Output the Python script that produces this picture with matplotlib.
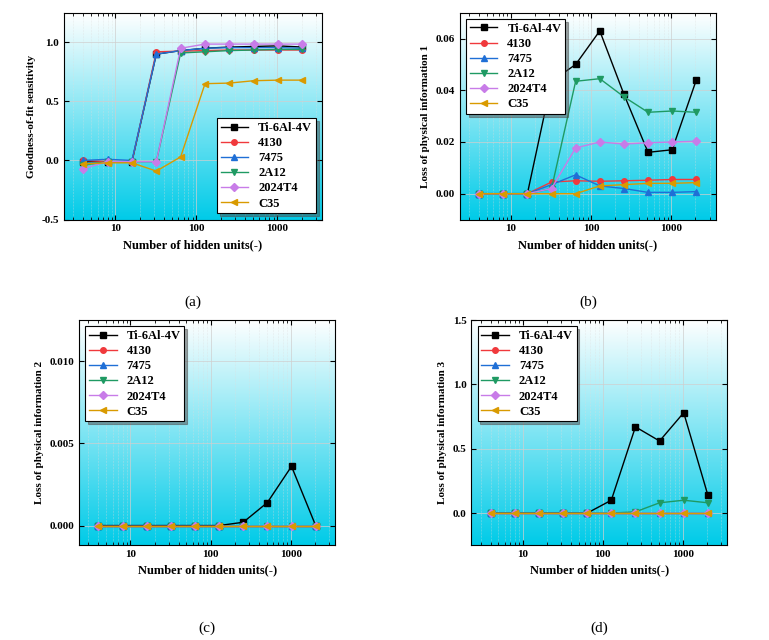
import numpy as np
import matplotlib.pyplot as plt
from matplotlib.colors import LinearSegmentedColormap
from matplotlib.ticker import FixedLocator, FixedFormatter

plt.rcParams['font.family'] = ['Liberation Serif', 'Noto Sans CJK SC', 'DejaVu Sans']
plt.rcParams['font.weight'] = 'bold'

units = [4, 8, 16, 32, 64, 128, 256, 512, 1024, 2048]
names = ["Ti-6Al-4V", "4130", "7475", "2A12", "2024T4", "C35"]
colors = ['black', '#f0393c', '#1f6fd6', '#1f9a63', '#c87ce8', '#d99a00']
markers = ['s', 'o', '^', 'v', 'D', '<']

fit = [
    [-0.01, -0.01, -0.01, 0.90, 0.93, 0.95, 0.96, 0.965, 0.97, 0.96],
    [0.0, -0.01, -0.01, 0.92, 0.925, 0.93, 0.935, 0.935, 0.935, 0.935],
    [0.0, 0.01, 0.0, 0.90, 0.93, 0.95, 0.955, 0.955, 0.955, 0.95],
    [-0.04, -0.01, -0.01, -0.01, 0.91, 0.92, 0.93, 0.935, 0.94, 0.94],
    [-0.07, -0.01, -0.01, -0.01, 0.95, 0.985, 0.985, 0.985, 0.985, 0.985],
    [-0.03, -0.02, -0.02, -0.09, 0.03, 0.65, 0.655, 0.675, 0.68, 0.68],
]
loss1 = [
    [0, 0, 0, 0.0435, 0.05, 0.063, 0.0385, 0.016, 0.017, 0.044],
    [0, 0, 0, 0.0045, 0.005, 0.0048, 0.005, 0.0052, 0.0055, 0.0055],
    [0, 0, 0, 0.0035, 0.0073, 0.003, 0.002, 0.0005, 0.0005, 0.0008],
    [0, 0, 0, 0.002, 0.0435, 0.0445, 0.0375, 0.0315, 0.032, 0.0315],
    [0, 0, 0, 0.002, 0.0177, 0.02, 0.0192, 0.0197, 0.02, 0.0203],
    [0, 0, 0, 0, 0, 0.003, 0.0035, 0.004, 0.004, 0.0043],
]
loss2 = [
    [0, 0, 0, 0, 0, 0, 0.0002, 0.0014, 0.0036, 0],
    [0] * 10, [0] * 10, [0] * 10, [0] * 10, [0] * 10,
]
loss3 = [
    [0, 0, 0, 0, 0, 0.1, 0.67, 0.56, 0.78, 0.14],
    [0] * 10, [0] * 10,
    [0, 0, 0, 0, 0, 0, 0.01, 0.08, 0.1, 0.08],
    [0] * 10, [0] * 10,
]

panels = [
    (fit, "Goodness-of-fit sensitivity", (-0.5, 1.25), [-0.5, 0, 0.5, 1.0], '{:.1f}', "(a)", 'lower right'),
    (loss1, "Loss of physical information 1", (-0.01, 0.07), [0, 0.02, 0.04, 0.06], '{:.2f}', "(b)", 'upper left'),
    (loss2, "Loss of physical information 2", (-0.0012, 0.0125), [0, 0.005, 0.010], '{:.3f}', "(c)", 'upper left'),
    (loss3, "Loss of physical information 3", (-0.25, 1.5), [0, 0.5, 1.0, 1.5], '{:.1f}', "(d)", 'upper left'),
]
rects = [(0.083, 0.657, 0.336, 0.323), (0.598, 0.657, 0.333, 0.323),
         (0.103, 0.148, 0.333, 0.352), (0.613, 0.148, 0.333, 0.352)]

cmap = LinearSegmentedColormap.from_list('bg', ['#ffffff', '#00cbe8'])
fig = plt.figure(figsize=(7.69, 6.40), dpi=100)
for (data, ylab, ylim, yt, fmt, cap, loc), r in zip(panels, rects):
    ax = fig.add_axes(r)
    ax.imshow(np.linspace(0, 1, 256).reshape(-1, 1), aspect='auto', cmap=cmap,
              extent=[0, 1, 0, 1], transform=ax.transAxes, zorder=0)
    for d, n, c, m in zip(data, names, colors, markers):
        ax.plot(units, d, color=c, marker=m, markersize=4, linewidth=1, label=n, zorder=3)
    ax.set_xscale('log')
    ax.set_xlim(2.3, 3600)
    ax.xaxis.set_major_locator(FixedLocator([10, 100, 1000]))
    ax.xaxis.set_major_formatter(FixedFormatter(['10', '100', '1000']))
    ax.set_ylim(*ylim)
    ax.set_yticks(yt)
    ax.set_yticklabels([fmt.format(v) for v in yt])
    ax.grid(True, which='both', color='#dddddd', linewidth=0.4, linestyle=':')
    ax.grid(True, which='major', color='#cfcfcf', linewidth=0.5, linestyle='-')
    ax.tick_params(labelsize=8, direction='in', which='both', top=True, right=True)
    ax.set_xlabel("Number of hidden units(-)", fontsize=9, fontweight='bold')
    ax.set_ylabel(ylab, fontsize=8, fontweight='bold')
    leg = ax.legend(loc=loc, fontsize=9, fancybox=False, shadow=True, edgecolor='black',
                    framealpha=1, handlelength=2.2, borderpad=0.3, labelspacing=0.25)
    leg.get_frame().set_linewidth(0.8)
    fig.text(r[0] + r[2] / 2, r[1] - 0.135, cap, ha='center', fontsize=11, fontweight='normal')

fig.savefig("out.png", dpi=100)
